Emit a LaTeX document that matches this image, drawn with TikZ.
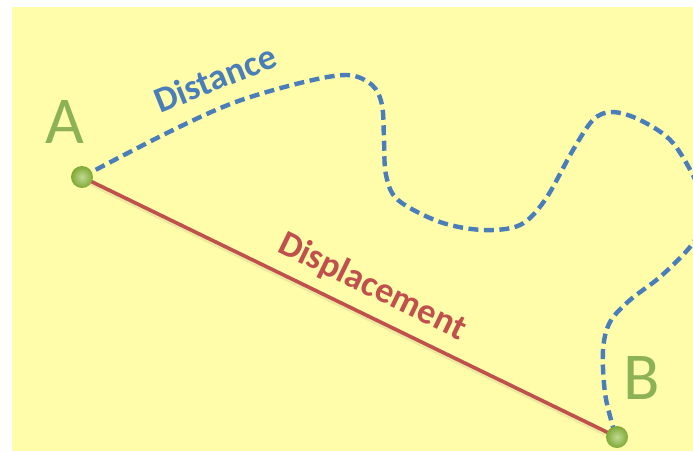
\documentclass[tikz,border=0pt]{standalone}
\usepackage{fontspec}
\setmainfont{Carlito}
\definecolor{bgyellow}{HTML}{FFFCAA}
\definecolor{distblue}{HTML}{4A7EBB}
\definecolor{disred}{HTML}{C0504D}
\definecolor{ptgreen}{HTML}{8DBB3A}
\definecolor{lettergreen}{HTML}{8DB255}
\tikzset{
  distpath/.style={draw=distblue, line width=4.4pt, dash pattern=on 10pt off 5.5pt, line cap=butt},
  displine/.style={draw=disred, line width=3.6pt},
  shadowline/.style={draw=black!35!bgyellow, line width=6pt, opacity=0.2},
  pointdot/.style={circle, minimum size=22pt, inner sep=0pt, inner color=ptgreen!55!white, outer color=ptgreen!90!black, shading=radial},
  pointletter/.style={text=lettergreen, font=\fontsize{67}{70}\selectfont, inner sep=0pt},
  distlabel/.style={text=distblue, font=\bfseries\fontsize{36}{40}\selectfont, inner sep=0pt},
  displabel/.style={text=disred, font=\bfseries\fontsize{36}{40}\selectfont, inner sep=0pt}
}
\begin{document}
\begin{tikzpicture}[x=1pt,y=-1pt]
\useasboundingbox (0,0) rectangle (693,451);
\fill[white] (0,0) rectangle (693,451);
\fill[bgyellow] (12,7) rectangle (693,451);
% points
\coordinate (A) at (82,177);
\coordinate (B) at (617,437);
% shadows
\draw[shadowline] ([shift={(1,2)}]A) -- ([shift={(1,2)}]B);
% displacement line
\draw[displine] (A) -- (B);
% distance path
\draw[distpath] plot[smooth, tension=0.55] coordinates {
  (A) (167,133) (233,103) (300,83) (347,75) (372,85) (382,105) (384,140)
  (386,175) (398,200) (440,222) (483,230) (520,225) (545,200) (573,150)
  (593,120) (612,112) (640,120) (673,143) (700,190) (705,220) (690,247)
  (660,277) (630,300) (610,322) (603,350) (605,393) (613,427) (B)};
% dots
\node[pointdot] (dotA) at (A) {};
\node[pointdot] (dotB) at (B) {};
% letters
\node[pointletter] (labA) at (65,122) {A};
\node[pointletter] (labB) at (642,378) {B};
% labels
\node[distlabel, rotate=22] (labDist) at (215,78) {Distance};
\node[displabel, rotate=-26] (labDisp) at (372,287) {Displacement};
\end{tikzpicture}
\end{document}
